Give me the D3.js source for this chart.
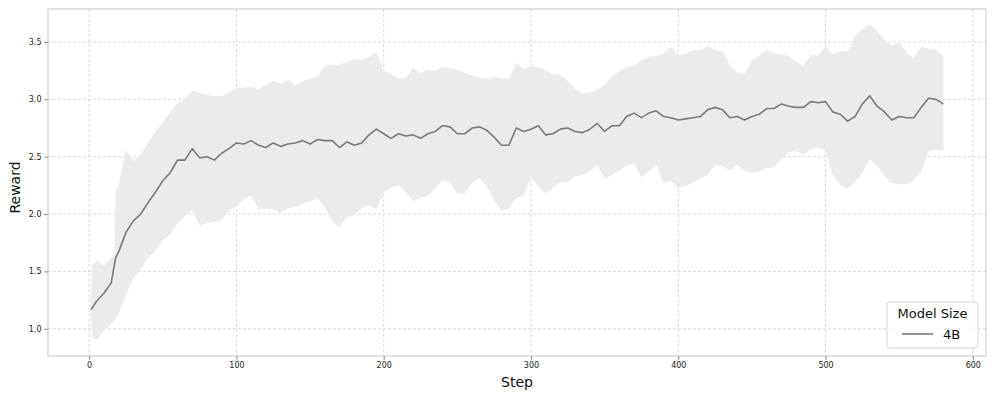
<!DOCTYPE html>
<html>
<head>
<meta charset="utf-8">
<script src="https://cdn.jsdelivr.net/npm/d3@7"></script>
<style>
  body { margin: 0; background: #fff; }
  svg text { font-family: "DejaVu Sans", sans-serif; }
</style>
</head>
<body>
<svg class="chart"></svg>
<script>
// chart size
var width = 996;
var height = 399;
var margin = {top: 9, right: 10, bottom: 43, left: 48};
var w = width - margin.left - margin.right;
var h = height - margin.top - margin.bottom;

// data
var steps = [1, 2, 5, 10, 15, 17, 18, 20, 25, 30, 35, 40, 45, 50, 55, 60, 65, 70, 75, 80, 85, 90, 95, 100,
    105, 110, 115, 120, 125, 130, 135, 140, 145, 150, 155, 160, 165, 170, 175, 180, 185, 190, 195, 200,
    205, 210, 215, 220, 225, 230, 235, 240, 245, 250, 255, 260, 265, 270, 275, 280, 285, 290, 295, 300,
    305, 310, 315, 320, 325, 330, 335, 340, 345, 350, 355, 360, 365, 370, 375, 380, 385, 390, 395, 400,
    405, 410, 415, 420, 425, 430, 435, 440, 445, 450, 455, 460, 465, 470, 475, 480, 485, 490, 495, 500,
    505, 510, 515, 520, 525, 530, 535, 540, 545, 550, 555, 560, 565, 570, 575, 580];

var meanReward = [1.17, 1.18, 1.24, 1.31, 1.40, 1.55, 1.62, 1.67, 1.84, 1.94, 2.00, 2.10, 2.19, 2.29, 2.36, 2.47, 2.47, 2.57, 2.49, 2.50, 2.47, 2.53, 2.57, 2.62,
    2.61, 2.64, 2.60, 2.58, 2.62, 2.59, 2.61, 2.62, 2.64, 2.61, 2.65, 2.64, 2.64, 2.58, 2.63, 2.60, 2.62, 2.69, 2.74, 2.70,
    2.66, 2.70, 2.68, 2.69, 2.66, 2.70, 2.72, 2.77, 2.76, 2.70, 2.70, 2.75, 2.76, 2.73, 2.67, 2.60, 2.60, 2.75, 2.72, 2.74,
    2.77, 2.69, 2.70, 2.74, 2.75, 2.72, 2.71, 2.74, 2.79, 2.72, 2.77, 2.77, 2.85, 2.88, 2.84, 2.88, 2.90, 2.85, 2.84, 2.82,
    2.83, 2.84, 2.85, 2.91, 2.93, 2.91, 2.84, 2.85, 2.82, 2.85, 2.87, 2.92, 2.92, 2.96, 2.94, 2.93, 2.93, 2.98, 2.97, 2.98,
    2.89, 2.87, 2.81, 2.85, 2.96, 3.03, 2.94, 2.89, 2.82, 2.85, 2.84, 2.84, 2.93, 3.01, 3.00, 2.96];

var upperReward = [1.17, 1.55, 1.60, 1.55, 1.62, 1.64, 2.20, 2.25, 2.56, 2.46, 2.52, 2.62, 2.72, 2.80, 2.89, 2.97, 3.00, 3.08, 3.06, 3.04, 3.03, 3.03, 3.06, 3.10,
    3.10, 3.11, 3.09, 3.13, 3.16, 3.14, 3.17, 3.12, 3.16, 3.18, 3.20, 3.29, 3.30, 3.30, 3.33, 3.35, 3.34, 3.37, 3.41, 3.25,
    3.22, 3.18, 3.19, 3.27, 3.23, 3.26, 3.25, 3.28, 3.27, 3.26, 3.23, 3.21, 3.19, 3.18, 3.20, 3.18, 3.18, 3.32, 3.26, 3.29,
    3.28, 3.25, 3.22, 3.21, 3.16, 3.09, 3.05, 3.06, 3.09, 3.12, 3.20, 3.25, 3.28, 3.29, 3.34, 3.37, 3.38, 3.40, 3.46, 3.38,
    3.40, 3.43, 3.43, 3.46, 3.43, 3.42, 3.30, 3.23, 3.22, 3.34, 3.38, 3.43, 3.40, 3.39, 3.38, 3.33, 3.29, 3.39, 3.38, 3.46,
    3.39, 3.42, 3.42, 3.55, 3.61, 3.65, 3.60, 3.52, 3.47, 3.50, 3.41, 3.36, 3.46, 3.44, 3.43, 3.38];

var lowerReward = [1.17, 0.93, 0.90, 0.98, 1.04, 1.07, 1.09, 1.13, 1.30, 1.44, 1.52, 1.62, 1.68, 1.77, 1.82, 1.92, 1.98, 2.04, 1.90, 1.92, 1.93, 1.95, 2.03, 2.07,
    2.13, 2.16, 2.04, 2.05, 2.04, 2.01, 2.05, 2.06, 2.09, 2.11, 2.14, 2.06, 1.94, 1.89, 1.97, 1.99, 2.05, 2.08, 2.04, 2.19,
    2.23, 2.25, 2.19, 2.11, 2.14, 2.16, 2.22, 2.30, 2.28, 2.18, 2.18, 2.27, 2.31, 2.24, 2.12, 2.03, 2.05, 2.14, 2.16, 2.32,
    2.24, 2.18, 2.23, 2.28, 2.28, 2.33, 2.34, 2.37, 2.43, 2.31, 2.34, 2.38, 2.42, 2.44, 2.32, 2.37, 2.43, 2.27, 2.29, 2.23,
    2.24, 2.28, 2.31, 2.34, 2.43, 2.42, 2.38, 2.43, 2.38, 2.36, 2.37, 2.40, 2.41, 2.48, 2.54, 2.55, 2.52, 2.56, 2.58, 2.55,
    2.34, 2.25, 2.22, 2.28, 2.36, 2.48, 2.42, 2.33, 2.27, 2.26, 2.26, 2.30, 2.37, 2.55, 2.56, 2.55];

var xTicks = [0, 100, 200, 300, 400, 500, 600];
var yTicks = [1.0, 1.5, 2.0, 2.5, 3.0, 3.5];
var seriesName = "4B";

var dataset = steps.map(function(s, i) {
    return {step: s, mean: meanReward[i], lo: lowerReward[i], hi: upperReward[i]};
});

var svg = d3.select(".chart")
    .attr("width", width)
    .attr("height", height);

var chart = svg.append("g")
    .attr("transform", "translate(" + margin.left + "," + margin.top + ")");

// matplotlib-like 5% padding around the data
var xMin = d3.min(steps), xMax = d3.max(steps);
var yMin = d3.min(lowerReward), yMax = d3.max(upperReward);
var xPad = (xMax - xMin) * 0.05, yPad = (yMax - yMin) * 0.05;

var x = d3.scaleLinear()
    .domain([xMin - xPad, xMax + xPad])
    .range([0, w]);

var y = d3.scaleLinear()
    .domain([yMin - yPad, yMax + yPad])
    .range([h, 0]);

// grid
chart.append("g")
    .selectAll("line")
    .data(xTicks)
    .enter().append("line")
    .attr("x1", function(d) { return x(d); })
    .attr("x2", function(d) { return x(d); })
    .attr("y1", 0)
    .attr("y2", h)
    .style("stroke", "#cfcfcf")
    .style("stroke-width", 0.8)
    .style("stroke-dasharray", "3,2");

chart.append("g")
    .selectAll("line")
    .data(yTicks)
    .enter().append("line")
    .attr("x1", 0)
    .attr("x2", w)
    .attr("y1", function(d) { return y(d); })
    .attr("y2", function(d) { return y(d); })
    .style("stroke", "#cfcfcf")
    .style("stroke-width", 0.8)
    .style("stroke-dasharray", "3,2");

// spread band
var band = d3.area()
    .x(function(d) { return x(d.step); })
    .y0(function(d) { return y(d.lo); })
    .y1(function(d) { return y(d.hi); });

chart.append("path")
    .datum(dataset)
    .attr("d", band)
    .style("fill", "#ebebeb")
    .style("stroke", "none");

// mean line
var line = d3.line()
    .x(function(d) { return x(d.step); })
    .y(function(d) { return y(d.mean); });

chart.append("path")
    .datum(dataset)
    .attr("d", line)
    .style("fill", "none")
    .style("stroke", "#7a7a7a")
    .style("stroke-width", 1.6)
    .style("stroke-linejoin", "round");

// axes
var xAxis = d3.axisBottom(x)
    .tickValues(xTicks)
    .tickSize(3.5)
    .tickPadding(3)
    .tickFormat(d3.format("d"));

var yAxis = d3.axisLeft(y)
    .tickValues(yTicks)
    .tickSize(3.5)
    .tickPadding(3)
    .tickFormat(d3.format(".1f"));

var gx = chart.append("g")
    .attr("transform", "translate(0," + h + ")")
    .call(xAxis);

var gy = chart.append("g")
    .call(yAxis);

[gx, gy].forEach(function(g) {
    g.select(".domain").remove();
    g.selectAll(".tick line").style("stroke", "#555").style("stroke-width", 0.8);
    g.selectAll(".tick text")
        .style("font-size", "8px")
        .style("fill", "#222")
        .style("font-family", "DejaVu Sans, sans-serif");
});

// frame
chart.append("rect")
    .attr("x", 0)
    .attr("y", 0)
    .attr("width", w)
    .attr("height", h)
    .style("fill", "none")
    .style("stroke", "#c8c8c8")
    .style("stroke-width", 1);

// axis labels
chart.append("text")
    .attr("x", w / 2)
    .attr("y", h + 31)
    .style("text-anchor", "middle")
    .style("font-size", "14px")
    .style("fill", "#111")
    .text("Step");

chart.append("text")
    .attr("transform", "rotate(-90)")
    .attr("x", -(h / 2) - 5)
    .attr("y", -28)
    .style("text-anchor", "middle")
    .style("font-size", "14px")
    .style("fill", "#111")
    .text("Reward");

// legend
var legend = chart.append("g")
    .attr("transform", "translate(" + (w - 99) + "," + (h - 54) + ")");

legend.append("rect")
    .attr("width", 91)
    .attr("height", 46)
    .attr("rx", 3)
    .style("fill", "#fff")
    .style("fill-opacity", 0.85)
    .style("stroke", "#d6d6d6")
    .style("stroke-width", 1);

legend.append("text")
    .attr("x", 45.5)
    .attr("y", 16)
    .style("text-anchor", "middle")
    .style("font-size", "13px")
    .style("fill", "#111")
    .text("Model Size");

legend.append("line")
    .attr("x1", 15)
    .attr("x2", 46)
    .attr("y1", 32)
    .attr("y2", 32)
    .style("stroke", "#7a7a7a")
    .style("stroke-width", 1.6);

legend.append("text")
    .attr("x", 56)
    .attr("y", 37)
    .style("font-size", "13px")
    .style("fill", "#111")
    .text(seriesName);
</script>
</body>
</html>
